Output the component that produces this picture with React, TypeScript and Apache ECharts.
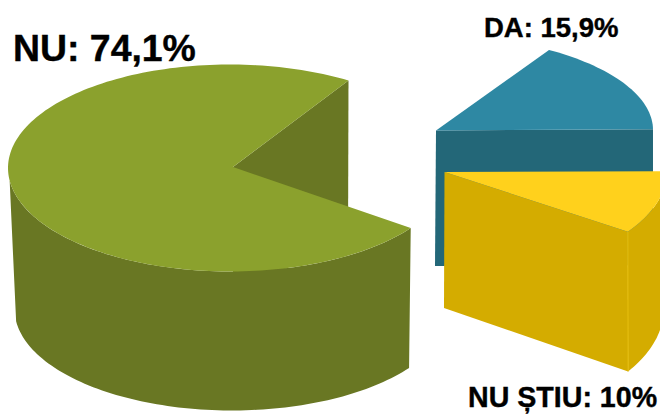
import React, { useEffect, useRef } from "react";
import * as echarts from "echarts";

// Data
const categories = ["NU", "DA", "NU ȘTIU"];
const values = [74.1, 15.9, 10];
const topColors = ["#8ba12d", "#2e88a3", "#ffd11c"];
const sideColors = ["#697723", "#236778", "#d4ac00"];

// Layout of the exploded, perspective-drawn slices
const START_ANGLE = 35.5;
const FONT = '"Liberation Sans", Arial, sans-serif';
const slices = [
  {
    apexTop: [233, 167], apexBottom: [233, 307],
    top: { cx: 230, cy: 168, rx: 222, ry: 103.5 },
    bottom: { cx: 232, cy: 309, rx: 217.5, ry: 101.5 },
    outerEnd: 173,
    label: { x: 13, y: 47.5, size: 37.4 },
  },
  {
    apexTop: [436, 130.5], apexBottom: [435, 266],
    top: { cx: 430, cy: 130, rx: 223, ry: 94.7 },
    bottom: { cx: 430, cy: 266, rx: 223, ry: 94.7 },
    outerEnd: null,
    label: { x: 484, y: 27, size: 27.5 },
  },
  {
    apexTop: [444.5, 172], apexBottom: [444, 308],
    top: { cx: 458.5, cy: 172, rx: 208, ry: 103 },
    bottom: { cx: 471, cy: 308, rx: 193, ry: 109.3 },
    outerEnd: "end",
    label: { x: 468, y: 397, size: 28.6 },
  },
];

const total = values.reduce((a, b) => a + b, 0);

function arc(e: any, from: number, to: number) {
  const pts: number[][] = [];
  const n = Math.max(2, Math.ceil(Math.abs(to - from) / 1.5));
  for (let i = 0; i <= n; i++) {
    const t = ((from + ((to - from) * i) / n) * Math.PI) / 180;
    pts.push([e.cx + e.rx * Math.cos(t), e.cy + e.ry * Math.sin(t)]);
  }
  return pts;
}

function renderItem(params: any) {
  const i = params.dataIndex;
  const s: any = slices[i];
  const before = values.slice(0, i).reduce((a, b) => a + b, 0);
  const from = START_ANGLE + (before / total) * 360;
  const to = from + (values[i] / total) * 360;
  const topArc = arc(s.top, from, to);
  const botArc = arc(s.bottom, from, to);
  const endT = topArc[topArc.length - 1];
  const endB = botArc[botArc.length - 1];
  const children: any[] = [];
  const poly = (points: number[][], fill: string) =>
    children.push({ type: "polygon", shape: { points }, style: { fill } });

  // cut face at the end angle
  poly([s.apexTop, endT, endB, s.apexBottom], sideColors[i]);
  // outer wall
  if (s.outerEnd !== null) {
    const stop = s.outerEnd === "end" ? to : s.outerEnd;
    poly([...arc(s.top, from, stop), ...arc(s.bottom, from, stop).reverse()], sideColors[i]);
  }
  // top face
  poly([s.apexTop, ...topArc], topColors[i]);
  if (s.outerEnd === "end") {
    children.push({
      type: "line",
      shape: { x1: endT[0], y1: endT[1], x2: endB[0], y2: endB[1] },
      style: { stroke: "#e8c00e", lineWidth: 1 },
    });
  }
  children.push({
    type: "text",
    style: {
      x: s.label.x,
      y: s.label.y,
      text: `${categories[i]}: ${String(values[i]).replace(".", ",")}%`,
      fill: "#000000",
      stroke: "#000000",
      lineWidth: 0.4,
      fontFamily: FONT,
      fontWeight: "bold",
      fontSize: s.label.size,
      textAlign: "left",
      textVerticalAlign: "middle",
    },
  });
  return { type: "group", children };
}

export default function App() {
  const ref = useRef<HTMLDivElement>(null);
  useEffect(() => {
    const chart = echarts.init(ref.current!, null, { renderer: "svg" });
    chart.setOption({
      animation: false,
      backgroundColor: "#ffffff",
      series: [
        {
          type: "custom",
          coordinateSystem: "none",
          silent: true,
          renderItem,
          data: categories.map((name, i) => ({ name, value: values[i] })),
        },
      ],
    });
    return () => chart.dispose();
  }, []);
  return (
    <div
      ref={ref}
      style={{ position: "absolute", left: 0, top: 0, width: 660, height: 414 }}
    />
  );
}
